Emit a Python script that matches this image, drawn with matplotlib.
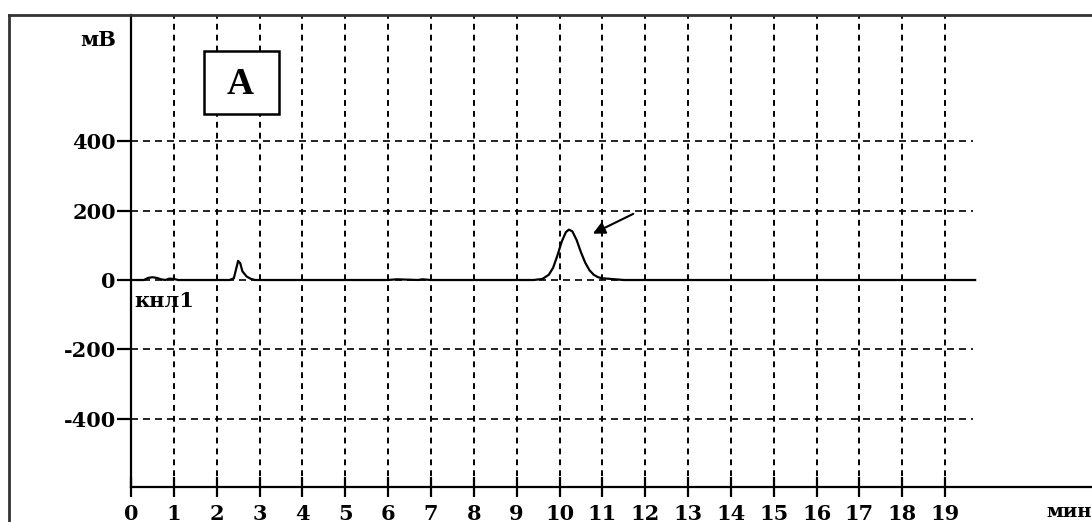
import matplotlib
matplotlib.use("Agg")
import matplotlib.pyplot as plt
from matplotlib.lines import Line2D
from matplotlib.patches import Rectangle

# Data
time_min = [0.0, 0.3, 0.4, 0.5, 0.6, 0.7, 0.8, 0.9, 1.0, 1.1, 1.3, 2.0, 2.3, 2.4, 2.45, 2.5, 2.55,
            2.6, 2.7, 2.8, 2.9, 3.5, 6.0, 6.2, 6.7, 6.8, 7.0, 9.4, 9.6, 9.75, 9.85, 9.95,
            10.05, 10.15, 10.22, 10.3, 10.4, 10.5, 10.6, 10.7, 10.8, 10.9, 11.0, 11.1,
            11.3, 11.5, 15.0, 19.7]
signal_mv = [0, 0, 6, 8, 6, 2, 0, 4, 3, 0, 0, 0, 0, 5, 30, 55, 48,
             25, 10, 3, 0, 0, 0, 2, 0, 2, 0, 0, 3, 15, 35, 70,
             110, 138, 145, 140, 115, 80, 50, 28, 15, 8, 5, 4,
             2, 0, 0, 0]
x_ticks = list(range(0, 20))
y_ticks = [-400, -200, 0, 200, 400]

W, H = 1092, 522
fig = plt.figure(figsize=(W / 100, H / 100), dpi=100)
fig.patch.set_facecolor("white")

ax = fig.add_axes([131 / W, (H - 487) / H, 1 - 131 / W, (487 - 15) / H])
ax.set_xlim(0, (W - 131) / 42.85)
ax.set_ylim(-596, 763)

# grid
ax.vlines(x_ticks[1:], -596, 763, colors="black", linestyles=(0, (3.0, 2.6)), linewidth=1.4, zorder=1)
ax.hlines(y_ticks, 0, 19.65, colors="black", linestyles=(0, (4.2, 3.0)), linewidth=1.2, zorder=1)

ax.plot(time_min, signal_mv, color="black", linewidth=1.6, zorder=3)

for s in ["top", "right"]:
    ax.spines[s].set_visible(False)
for s in ["left", "bottom"]:
    ax.spines[s].set_linewidth(1.6)

font = dict(family="DejaVu Serif", weight="bold", size=15)
ax.set_xticks(x_ticks)
ax.set_xticklabels([str(t) for t in x_ticks], fontdict=font)
ax.set_yticks(y_ticks)
ax.set_yticklabels([str(t) for t in y_ticks], fontdict=font)
ax.tick_params(axis="x", direction="inout", length=14, width=1.6, pad=5)
ax.tick_params(axis="y", direction="out", length=10, width=1.6, pad=1)

# outer frame lines
fig.add_artist(Line2D([9 / W, 9 / W], [0, (H - 15) / H], color="#333333", linewidth=2, transform=fig.transFigure))
fig.add_artist(Line2D([9 / W, 1], [(H - 15) / H, (H - 15) / H], color="#333333", linewidth=2, transform=fig.transFigure))

# labels
fig.text(98 / W, (H - 40) / H, "мВ", ha="center", va="center", **font)
fig.text(134 / W, (H - 301) / H, "кнл1", ha="left", va="center", **font)
fig.text(1046 / W, (H - 512) / H, "мин", ha="left", va="center",
         family="DejaVu Serif", weight="bold", size=14)

# box "A"
fig.add_artist(Rectangle((204 / W, (H - 114) / H), 75 / W, 63 / H, transform=fig.transFigure,
                         facecolor="white", edgecolor="black", linewidth=1.8, zorder=5))
fig.text(240 / W, (H - 84) / H, "A", ha="center", va="center", family="Liberation Serif",
         weight="bold", size=27, zorder=6)

# arrow
ax.annotate("", xy=(10.72, 130), xytext=(11.78, 194),
            arrowprops=dict(arrowstyle="-|>", color="black", linewidth=1.5, mutation_scale=18))

fig.savefig("out.png", dpi=100)
